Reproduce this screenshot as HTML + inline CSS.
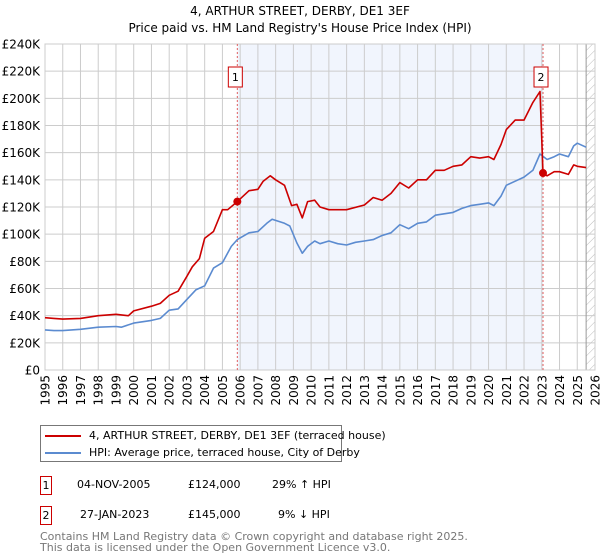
<!DOCTYPE html>
<html><head><meta charset="utf-8"><style>
body{margin:0;background:#fff;font-family:"DejaVu Sans","Liberation Sans",sans-serif;}
#wrap{position:relative;width:600px;height:560px;overflow:hidden}
.t{position:absolute;font-size:12px;color:#000;white-space:nowrap}
</style></head><body>
<div id="wrap">
<div class="t" style="left:0;width:600px;text-align:center;top:4px;font-size:12px">4, ARTHUR STREET, DERBY, DE1 3EF</div>
<div class="t" style="left:0;width:600px;text-align:center;top:21px;font-size:12px">Price paid vs. HM Land Registry's House Price Index (HPI)</div>
<svg id="plot" width="600" height="420" style="position:absolute;left:0;top:0">
<defs><pattern id="hatch" width="6" height="6" patternUnits="userSpaceOnUse" patternTransform="rotate(45)"><line x1="0" y1="0" x2="0" y2="6" stroke="#bbb" stroke-width="1"/></pattern></defs>
</svg>
<div style="position:absolute;left:40px;top:425px;width:300px;height:35px;border:1px solid #777;font-size:11px">
<div style="position:absolute;left:4px;top:3px;white-space:nowrap"><span style="display:inline-block;width:36px;height:2px;background:#cc0000;vertical-align:middle;margin-right:8px"></span>4, ARTHUR STREET, DERBY, DE1 3EF (terraced house)</div>
<div style="position:absolute;left:4px;top:20px;white-space:nowrap"><span style="display:inline-block;width:36px;height:2px;background:#5b8bd0;vertical-align:middle;margin-right:8px"></span>HPI: Average price, terraced house, City of Derby</div>
</div>
<div style="position:absolute;left:0;top:476px;font-size:11px">
<span style="position:absolute;left:40px;top:0;width:10px;height:17px;border:1px solid #c00;text-align:center;line-height:17px">1</span>
<span style="position:absolute;left:77px;top:2px;white-space:nowrap">04-NOV-2005</span>
<span style="position:absolute;left:188px;top:2px;white-space:nowrap">£124,000</span>
<span style="position:absolute;left:272px;top:2px;white-space:nowrap">29% ↑ HPI</span></div>
<div style="position:absolute;left:0;top:506px;font-size:11px">
<span style="position:absolute;left:40px;top:0;width:10px;height:17px;border:1px solid #c00;text-align:center;line-height:17px">2</span>
<span style="position:absolute;left:80px;top:2px;white-space:nowrap">27-JAN-2023</span>
<span style="position:absolute;left:188px;top:2px;white-space:nowrap">£145,000</span>
<span style="position:absolute;left:278px;top:2px;white-space:nowrap">9% ↓ HPI</span></div>
<div style="position:absolute;left:40px;top:531px;font-size:11px;color:#777;line-height:11px">Contains HM Land Registry data © Crown copyright and database right 2025.<br>This data is licensed under the Open Government Licence v3.0.</div>
</div>
<script>
const yTicks=[0,20,40,60,80,100,120,140,160,180,200,220,240];
const yTickLabels=["£0","£20K","£40K","£60K","£80K","£100K","£120K","£140K","£160K","£180K","£200K","£220K","£240K"];
const xYears=[1995,1996,1997,1998,1999,2000,2001,2002,2003,2004,2005,2006,2007,2008,2009,2010,2011,2012,2013,2014,2015,2016,2017,2018,2019,2020,2021,2022,2023,2024,2025,2026];
const hpiT=[1995,1995.5,1996,1997,1998,1999,1999.3,2000,2001,2001.5,2002,2002.5,2003,2003.5,2004,2004.5,2005,2005.5,2005.84,2006.5,2007,2007.5,2007.8,2008.5,2008.8,2009.2,2009.5,2009.8,2010.2,2010.5,2011,2011.5,2012,2012.5,2013,2013.5,2014,2014.5,2015,2015.5,2016,2016.5,2017,2017.5,2018,2018.5,2019,2019.5,2020,2020.3,2020.7,2021,2021.5,2022,2022.5,2022.9,2023.3,2023.7,2024,2024.5,2024.8,2025,2025.5];
const hpiV=[29.5,29,29,30,31.5,32,31.5,34.5,36.5,38,44,45,52,59,62,75,79,91,96,101,102,108,111,108,106,93.5,86,91,95,93,95,93,92,94,95,96,99,101,107,104,108,109,114,115,116,119,121,122,123,121,128,136,139,142,147,159,155,157,159,157,165,167,164];
const redT=[1995,1995.5,1996,1997,1998,1999,1999.7,2000,2001,2001.5,2002,2002.5,2003,2003.3,2003.7,2004,2004.5,2005,2005.3,2005.84,2006.5,2007,2007.3,2007.7,2008,2008.5,2008.9,2009.2,2009.5,2009.8,2010.2,2010.5,2011,2012,2013,2013.5,2014,2014.5,2015,2015.5,2016,2016.5,2017,2017.5,2018,2018.5,2019,2019.5,2020,2020.3,2020.7,2021,2021.5,2022,2022.5,2022.9,2023.07,2023.3,2023.7,2024,2024.5,2024.8,2025,2025.5];
const redV=[38.5,38,37.5,38,40,41,40,43.5,47,49,55,58,69,76,82,97,102,118,118,124,132,133,139,143,140,136,121,122,112,124,125,120,118,118,121.5,127,125,130,138,134,140,140,147,147,150,151,157,156,157,155,166,177,184,184,197,205,145,143,146,146,144,151,150,149];
const sales=[{n:"1",t:2005.84,v:124},{n:"2",t:2023.07,v:145}];
const X0=45,X1=595,Y0=370,Y1=44;
const xs=t=>X0+(t-1995)/31*(X1-X0);
const ys=v=>Y0-v/240*(Y0-Y1);
const svg=document.getElementById('plot');
const NS="http://www.w3.org/2000/svg";
const FF='DejaVu Sans, Liberation Sans, sans-serif';
function mk(tag,attrs){const e=document.createElementNS(NS,tag);for(const k in attrs)e.setAttribute(k,attrs[k]);svg.appendChild(e);return e;}
let r=mk('rect',{x:xs(sales[0].t),y:Y1,width:xs(sales[1].t)-xs(sales[0].t),height:Y0-Y1,fill:'#eef2fc',opacity:0.8});


let h=mk('rect',{x:xs(2025.5),y:Y1,width:X1-xs(2025.5),height:Y0-Y1,fill:'url(#hatch)'});


yTicks.forEach((v,i)=>{
 let l=mk('line',{x1:X0,x2:X1,y1:ys(v),y2:ys(v),stroke:'#ccc','stroke-width':1});
 
 
 let t=mk('text',{x:X0-5,y:ys(v)+4.5,'text-anchor':'end','font-size':12,fill:'#000','font-family':FF});
 t.textContent=yTickLabels[i];
 
 
});
xYears.forEach(y=>{
 let l=mk('line',{x1:xs(y),x2:xs(y),y1:Y1,y2:Y0,stroke:'#ccc','stroke-width':1});
 
 
 let t=mk('text',{transform:`translate(${xs(y)+4.5},${Y0+5}) rotate(-90)`,'text-anchor':'end','font-size':12,fill:'#000','font-family':FF});
 t.textContent=y;
 
 
});
let hl=mk('line',{x1:xs(2025.5),x2:xs(2025.5),y1:Y1,y2:Y0,stroke:'#999','stroke-width':1});


let fr=mk('rect',{x:X0,y:Y1,width:X1-X0,height:Y0-Y1,fill:'none',stroke:'#ccc'});


sales.forEach(s=>{
 let l=mk('line',{x1:xs(s.t),x2:xs(s.t),y1:Y1,y2:Y0,stroke:'#e06060','stroke-width':1,'stroke-dasharray':'2,2'});
 
 
});
function path(T,V,color,name){
 let d=T.map((t,i)=>(i?'L':'M')+xs(t).toFixed(1)+','+ys(V[i]).toFixed(1)).join('');
 let p=mk('path',{d:d,fill:'none',stroke:color,'stroke-width':1.6,'stroke-linejoin':'round'});
 
 
}
path(hpiT,hpiV,'#5b8bd0','hpi-line');
path(redT,redV,'#cc0000','property-price-line');
sales.forEach(s=>{
 let c=mk('circle',{cx:xs(s.t),cy:ys(s.v),r:4,fill:'#cc0000'});
 
 
 let b=mk('rect',{x:xs(s.t)-9,y:67,width:14,height:20,fill:'#fff',stroke:'#c00'});
 
 
 let t=mk('text',{x:xs(s.t)-2,y:81,'text-anchor':'middle','font-size':11,fill:'#000','font-family':FF});
 t.textContent=s.n;
 
 
});
</script>
</body></html>
